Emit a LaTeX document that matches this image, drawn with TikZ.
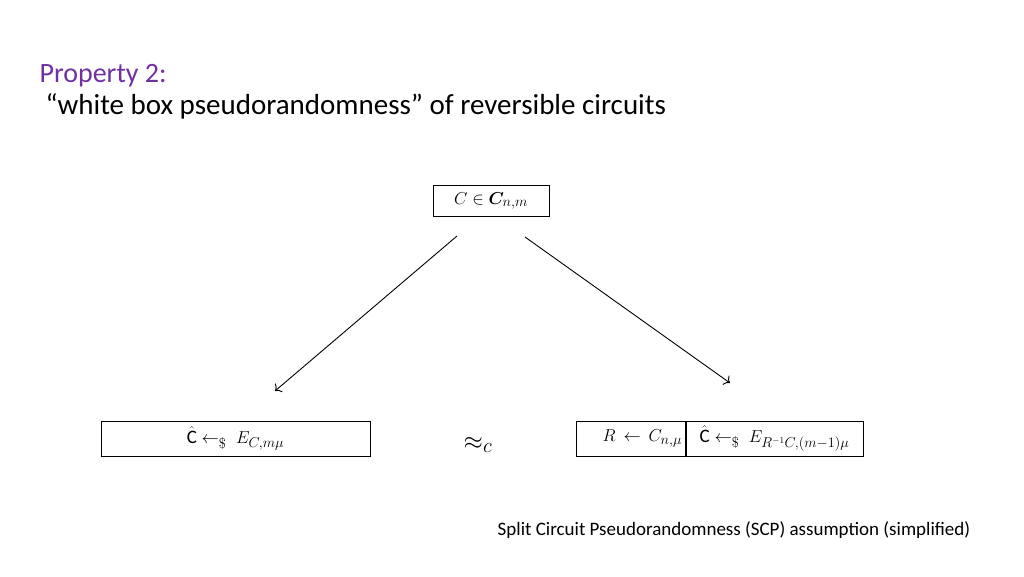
\documentclass[tikz,border=0pt]{standalone}
\usepackage{amsmath, amssymb}
\usepackage{bm}
\usepackage{fontspec}
\setmainfont{Carlito}
\usepackage{tikz}
\usetikzlibrary{arrows.meta, positioning}
\definecolor{propviolet}{RGB}{112,48,160}
\begin{document}
\begin{tikzpicture}[x=1pt,y=-1pt,
    mbox/.style={draw, line width=1pt, inner sep=0pt, font=\fontsize{19}{22}\selectfont},
    ar/.style={-{To[scale=1.5]}, line width=0.9pt}]
        \useasboundingbox (0,0) rectangle (1024,576);
        \node[anchor=west, text=propviolet, font=\fontsize{28}{32}\selectfont] at (36,76) (prop) {Property 2:};
        \node[anchor=west, font=\fontsize{29}{33}\selectfont] at (42,106) (title) {“white box pseudorandomness” of reversible circuits};

        \node[mbox, minimum width=116pt, minimum height=31pt] at (491,201) (top) {$C\in\bm{C}_{n,m}$};
        \node[mbox, minimum width=269pt, minimum height=35pt] at (235.5,438.5) (left) {$\hat{\mathrm{C}}\leftarrow_{\$}\;E_{C,m\mu}$};
        \node[mbox, minimum width=109pt, minimum height=35pt, text width=103pt, align=right] at (630.5,438.5) (rl) {$R\leftarrow C_{n,\mu}$};
        \node[mbox, minimum width=177pt, minimum height=35pt, right=0pt of rl] (rr) {$\hat{\mathrm{C}}\leftarrow_{\$}\;E_{R^{-1}C,(m-1)\mu}$};
        \node[font=\fontsize{32}{36}\selectfont] at (478,445) (approx) {$\approx_c$};

        \coordinate (s1) at (457,236);
        \coordinate (e1) at (275,391);
        \coordinate (s2) at (525,237);
        \coordinate (e2) at (730,383);
        \draw [ar] (s1) -- (e1);
        \draw [ar] (s2) -- (e2);

        \node[font=\fontsize{19}{22}\selectfont] at (734,530) (note) {Split Circuit Pseudorandomness (SCP) assumption (simplified)};
    \end{tikzpicture}
\end{document}
